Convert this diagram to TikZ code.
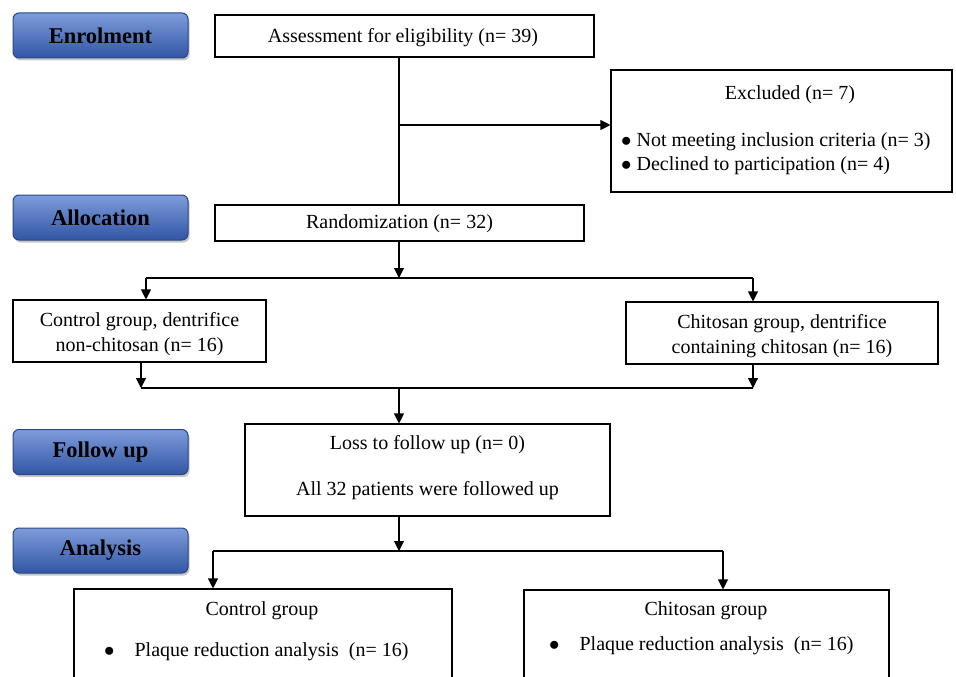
\documentclass[tikz,border=0pt]{standalone}
\usepackage{fontspec}
\setmainfont{Liberation Serif}
\usetikzlibrary{arrows.meta,shadows}
\definecolor{stagetop}{HTML}{7E9CDB}
\definecolor{stagemid}{HTML}{4D73C3}
\definecolor{stagebot}{HTML}{3156A5}
\definecolor{stageline}{HTML}{2A4785}
\tikzset{
	stage/.style={
			rounded corners=6pt, draw=stageline, line width=1pt,
			top color=stagetop, middle color=stagemid, bottom color=stagebot,
			minimum width=175pt, minimum height=45pt, inner sep=0pt,
			font=\fontsize{22.5}{24}\selectfont\bfseries,
			drop shadow={shadow xshift=1.5pt, shadow yshift=-2.5pt, opacity=0.45}
		},
	box/.style={draw, line width=1.1pt, inner sep=0pt},
	txt/.style={inner sep=0pt, font=\fontsize{20}{25}\selectfont},
	flow/.style={line width=1.1pt, -{Triangle[length=10pt,width=10pt]}},
	link/.style={line width=1.1pt}
}

\begin{document}
\begin{tikzpicture}[x=1pt, y=-1pt]

			\useasboundingbox (0,0) rectangle (956,677);

			% Stage labels on the left
			\node[stage] (enrol) at (100.5,35.5) {Enrolment};
			\node[stage] (alloc) at (100.5,217.5) {Allocation};
			\node[stage] (follow) at (100.5,452) {Follow up};
			\node[stage] (analys) at (100.5,550.5) {Analysis};

			% Enrolment
			\node[box, minimum width=379pt, minimum height=42pt] (assess) at (404.5,36) {};
			\node[txt] (assesst) at (403,38) {Assessment for eligibility (n= 39)};

			\node[box, minimum width=341pt, minimum height=122pt] (excl) at (781.5,131) {};
			\node[txt] (exclt) at (790,95) {Excluded (n= 7)};
			\node[txt, anchor=west] (excla) at (621,142) {$\bullet$\ Not meeting inclusion criteria (n= 3)};
			\node[txt, anchor=west] (exclb) at (621,166) {$\bullet$\ Declined to participation (n= 4)};

			% Allocation
			\node[box, minimum width=369pt, minimum height=36pt] (rand) at (399.5,223) {};
			\node[txt] (randt) at (399.5,224) {Randomization (n= 32)};

			\node[box, minimum width=253pt, minimum height=62pt] (ctrl) at (139.5,331) {};
			\node[txt, align=center] (ctrlt) at (139.5,334) {Control group, dentrifice\\non-chitosan (n= 16)};

			\node[box, minimum width=312pt, minimum height=62pt] (chit) at (782,333) {};
			\node[txt, align=center] (chitt) at (782,336) {Chitosan group, dentrifice\\containing chitosan (n= 16)};

			% Follow up
			\node[box, minimum width=365pt, minimum height=92pt] (loss) at (427.5,470) {};
			\node[txt] (losst) at (427.5,445) {Loss to follow up (n= 0)};
			\node[txt] (allt) at (427.5,491) {All 32 patients were followed up};

			% Analysis
			\node[box, minimum width=378pt, minimum height=120pt] (actrl) at (263,649) {};
			\node[txt] (actrlt) at (262,611) {Control group};
			\node[txt, anchor=west] (actrlb) at (104,652) {$\bullet$\hspace{20pt}Plaque reduction analysis\ \ (n= 16)};

			\node[box, minimum width=365pt, minimum height=120pt] (achit) at (706.5,650) {};
			\node[txt] (achitt) at (706,611) {Chitosan group};
			\node[txt, anchor=west] (achitb) at (549,646) {$\bullet$\hspace{20pt}Plaque reduction analysis\ \ (n= 16)};

			% Branch points
			\coordinate (s1) at (399,125);
			\coordinate (s2) at (399,278);
			\coordinate (s2l) at (146,278);
			\coordinate (s2r) at (753,278);
			\coordinate (s3) at (399,388);
			\coordinate (s3l) at (141,388);
			\coordinate (s3r) at (753,388);
			\coordinate (s4) at (399,551);
			\coordinate (s4l) at (213,551);
			\coordinate (s4r) at (723,551);

			% Connectors
			\draw[link] (assess.south -| s1) -- (rand.north -| s1);
			\draw[flow] (s1) -- (s1 -| excl.west);

			\draw[flow] (rand.south -| s2) -- (s2);
			\draw[link] (s2l) -- (s2r);
			\draw[flow] (s2l) -- (s2l |- ctrl.north);
			\draw[flow] (s2r) -- (s2r |- chit.north);

			\draw[flow] (ctrl.south -| s3l) -- (s3l);
			\draw[flow] (chit.south -| s3r) -- (s3r);
			\draw[link] (s3l) -- (s3r);
			\draw[flow] (s3) -- (s3 |- loss.north);

			\draw[flow] (loss.south -| s4) -- (s4);
			\draw[link] (s4l) -- (s4r);
			\draw[flow] (s4l) -- (s4l |- actrl.north);
			\draw[flow] (s4r) -- (s4r |- achit.north);

		\end{tikzpicture}
\end{document}
